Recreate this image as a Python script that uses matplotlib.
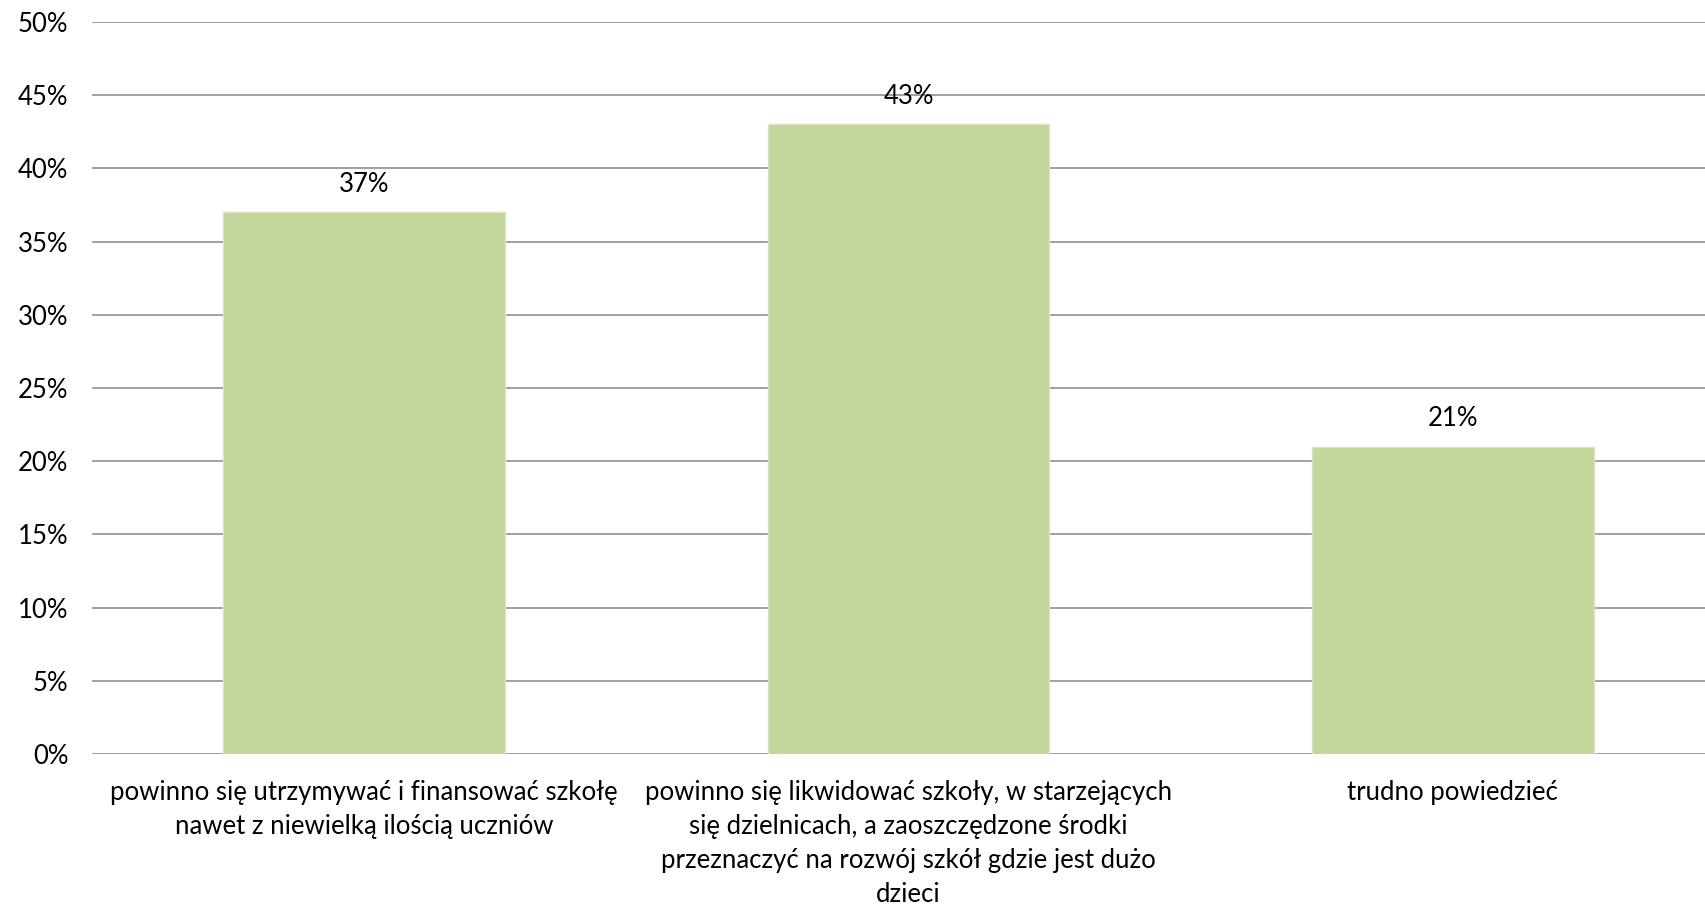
import matplotlib
matplotlib.use("Agg")
import matplotlib.pyplot as plt
from matplotlib.ticker import MultipleLocator, FuncFormatter

plt.rcParams['font.family'] = ['Lato', 'DejaVu Sans']

# =============================
# DATA
# =============================
categories = [
    "powinno się utrzymywać i finansować szkołę\nnawet z niewielką ilością uczniów",
    "powinno się likwidować szkoły, w starzejących\nsię dzielnicach, a zaoszczędzone środki\nprzeznaczyć na rozwój szkół gdzie jest dużo\ndzieci",
    "trudno powiedzieć",
]
values = [37, 43, 21]
value_labels = ["37%", "43%", "21%"]

W, H = 1706, 906
fig = plt.figure(figsize=(W / 100, H / 100), dpi=100)

# axes runs a bit past the right edge, like in the source image
left, right, top, bottom = 92, 1725, 22, 754
ax = fig.add_axes([left / W, 1 - bottom / H, (right - left) / W, (bottom - top) / H])

x = range(len(categories))
bars = ax.bar(x, values, width=0.518, color="#C4D79B", edgecolor="#D8E5BF",
              linewidth=1.0, zorder=3)

ax.set_xlim(-0.5, len(categories) - 0.5)
ax.set_ylim(0, 50)
ax.yaxis.set_major_locator(MultipleLocator(5))
ax.yaxis.set_major_formatter(FuncFormatter(lambda v, p: f"{int(v)}%"))
ax.grid(axis="y", color="#868686", linewidth=1.1, zorder=0)
ax.set_axisbelow(True)

for s in ax.spines.values():
    s.set_visible(False)

fs = 18.5
ax.set_xticks(list(x))
ax.set_xticklabels(categories, fontsize=fs, linespacing=1.45, va="top")
ax.tick_params(axis="x", length=0, pad=19)
ax.tick_params(axis="y", length=0, pad=17, labelsize=fs)

for b, lab in zip(bars, value_labels):
    ax.annotate(lab, (b.get_x() + b.get_width() / 2, b.get_height()),
                xytext=(0, 11), textcoords="offset points",
                ha="center", va="bottom", fontsize=fs)

fig.savefig("out.png", dpi=100)
